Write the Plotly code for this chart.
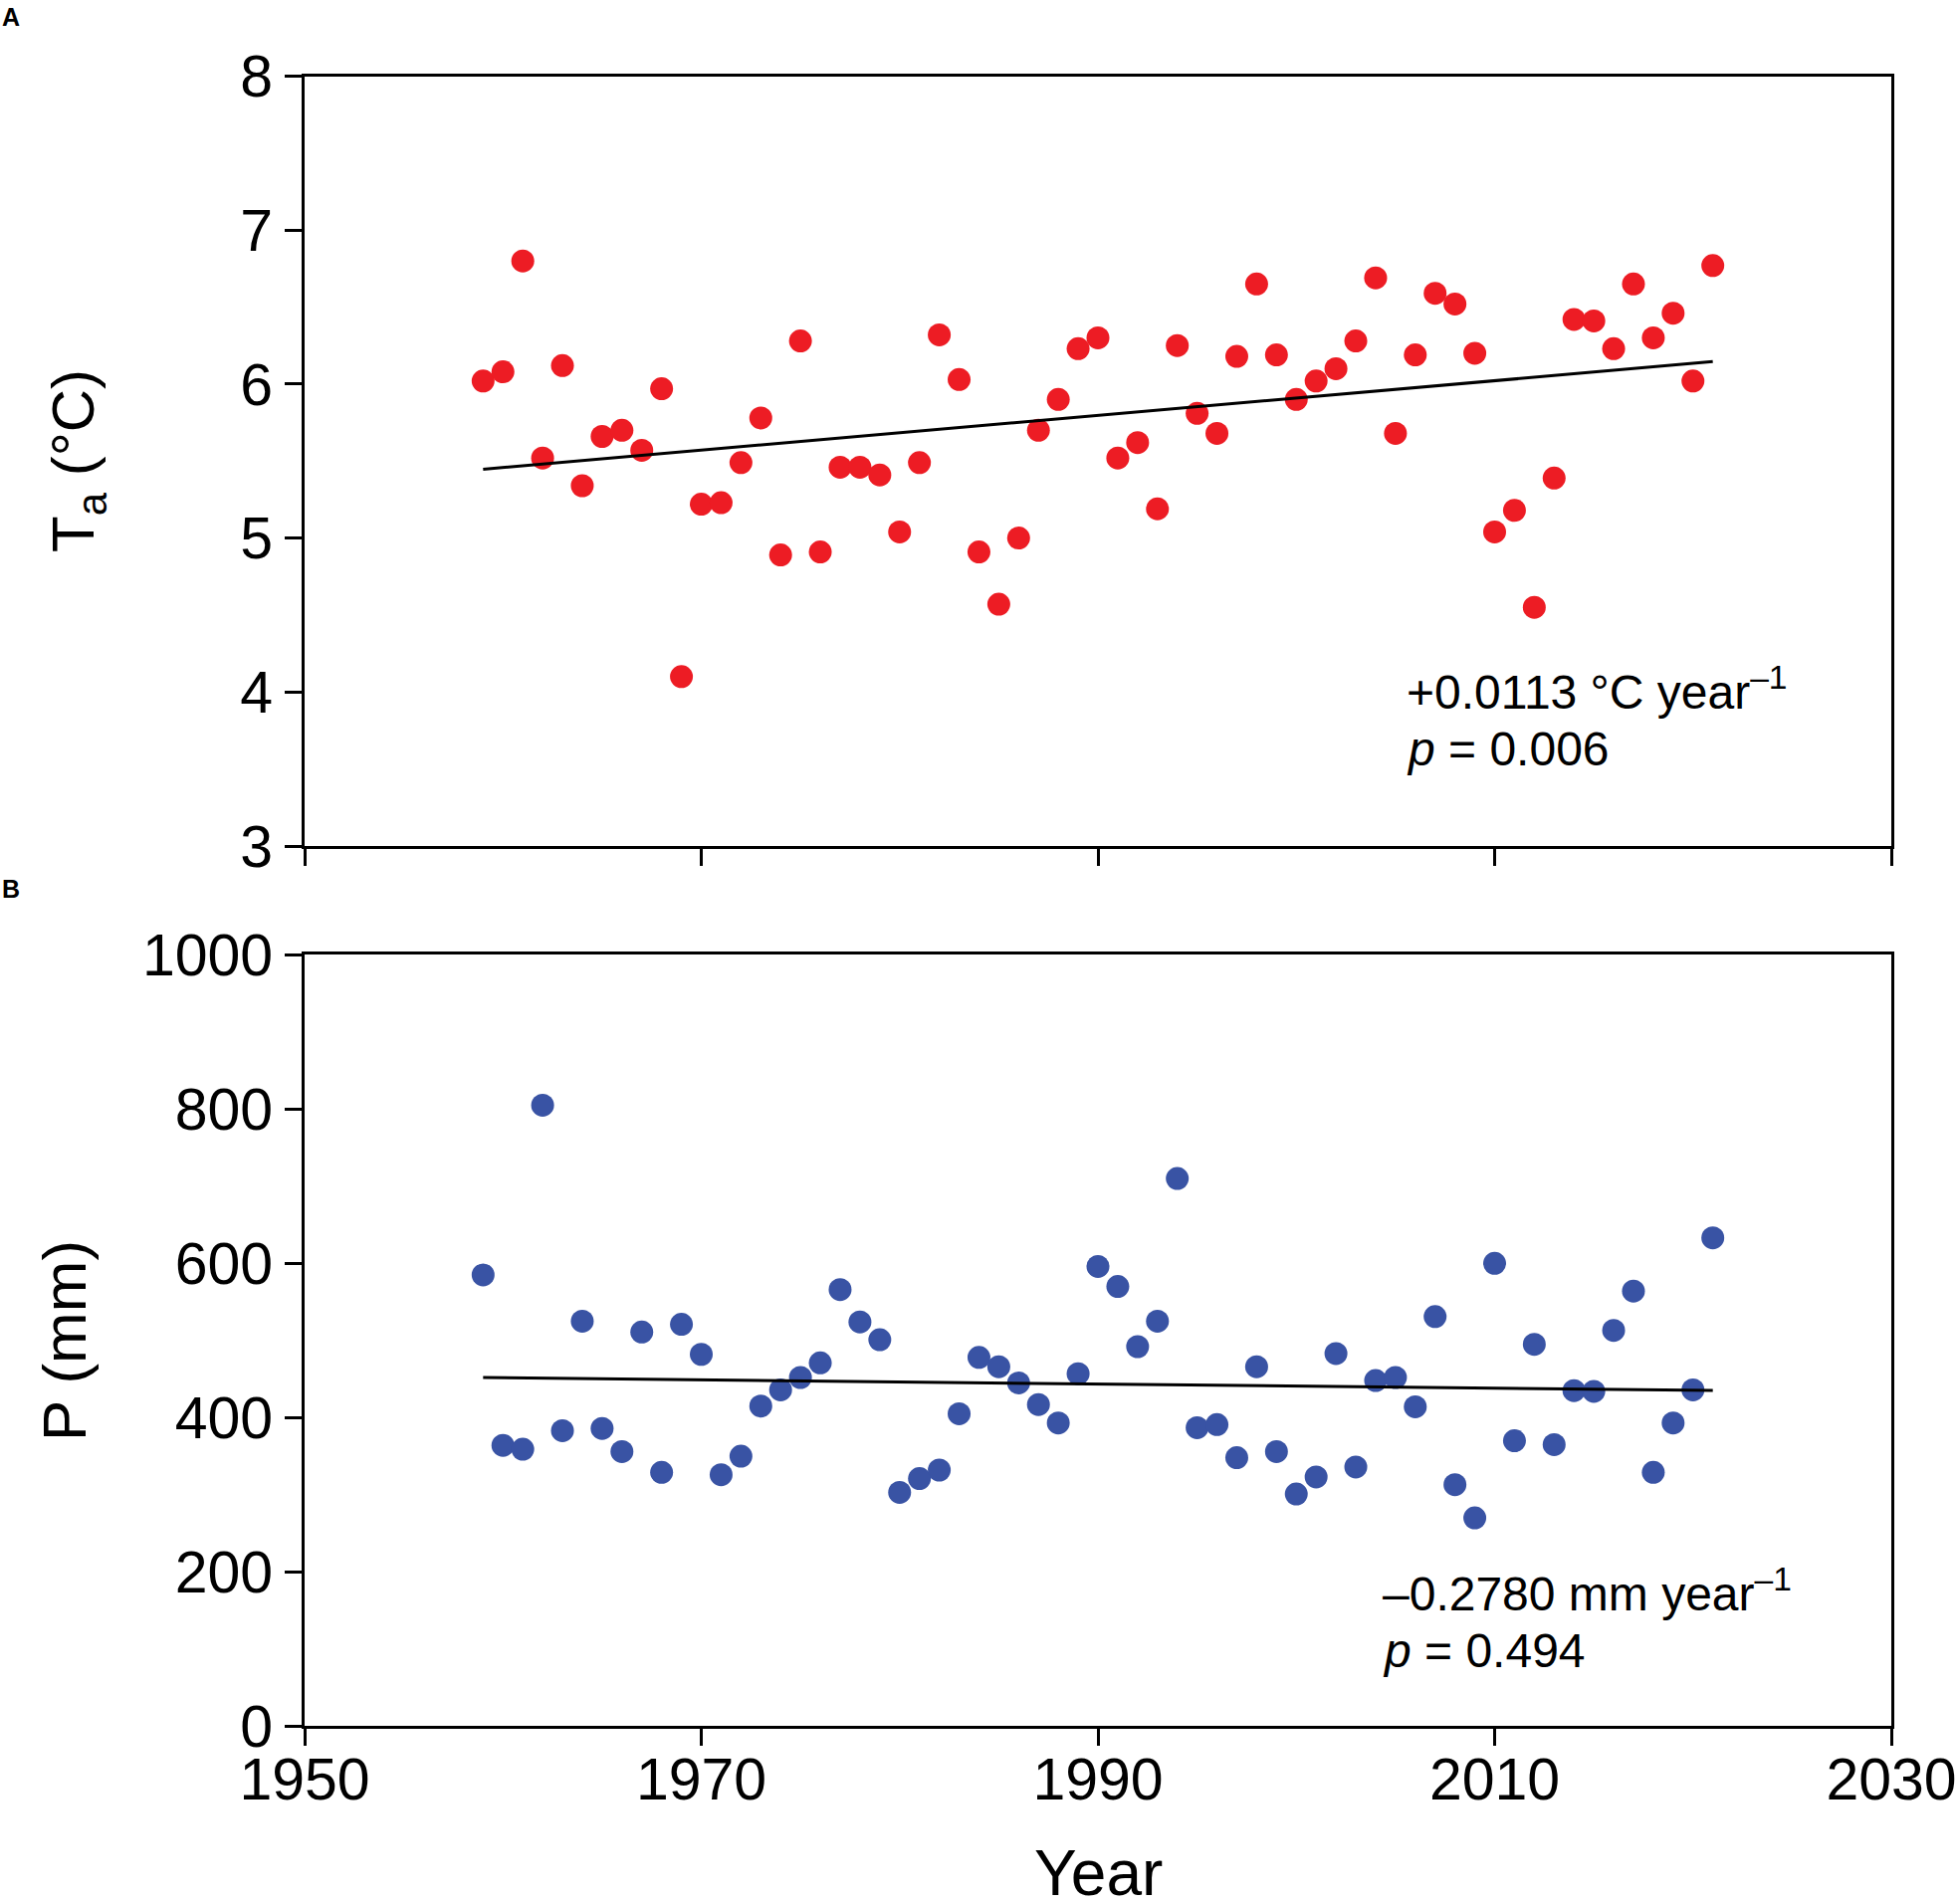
import plotly.graph_objects as go
import numpy as np

years = list(range(1959, 2022))

# annual mean air temperature (deg C)
ta = [6.02, 6.08, 6.80, 5.52, 6.12, 5.34, 5.66, 5.70, 5.57, 5.97,
      4.10, 5.22, 5.23, 5.49, 5.78, 4.89, 6.28, 4.91, 5.46, 5.46,
      5.41, 5.04, 5.49, 6.32, 6.03, 4.91, 4.57, 5.00, 5.70, 5.90,
      6.23, 6.30, 5.52, 5.62, 5.19, 6.25, 5.81, 5.68, 6.18, 6.65,
      6.19, 5.90, 6.02, 6.10, 6.28, 6.69, 5.68, 6.19, 6.59, 6.52,
      6.20, 5.04, 5.18, 4.55, 5.39, 6.42, 6.41, 6.23, 6.65, 6.30,
      6.46, 6.02, 6.77]

# annual precipitation (mm)
precip = [585, 364, 359, 805, 383, 525, 386, 356, 511, 329,
          521, 482, 326, 350, 415, 436, 452, 471, 566, 524,
          501, 303, 321, 332, 405, 478, 466, 445, 417, 393,
          457, 596, 570, 492, 525, 710, 387, 391, 348, 466,
          356, 301, 323, 483, 336, 448, 452, 414, 531, 313,
          270, 600, 370, 495, 365, 435, 434, 513, 564, 329,
          393, 436, 633]

x_ticks = [1950, 1970, 1990, 2010, 2030]

W, H = 1966, 1913
FONT = "Arial, Liberation Sans, sans-serif"


def py(y):
    # pixel row -> paper coordinate
    return 1 - y / H


yrs = np.array(years)
fit_a = np.polyfit(yrs, ta, 1)
fit_b = np.polyfit(yrs, precip, 1)

fig = go.Figure()

fig.add_trace(go.Scatter(x=years, y=ta, mode="markers",
                         marker=dict(color="#ed1c24", size=23),
                         xaxis="x", yaxis="y", showlegend=False))
fig.add_trace(go.Scatter(x=[years[0], years[-1]],
                         y=np.polyval(fit_a, [years[0], years[-1]]),
                         mode="lines", line=dict(color="black", width=3),
                         xaxis="x", yaxis="y", showlegend=False))

fig.add_trace(go.Scatter(x=years, y=precip, mode="markers",
                         marker=dict(color="#3953a4", size=23),
                         xaxis="x2", yaxis="y2", showlegend=False))
fig.add_trace(go.Scatter(x=[years[0], years[-1]],
                         y=np.polyval(fit_b, [years[0], years[-1]]),
                         mode="lines", line=dict(color="black", width=3),
                         xaxis="x2", yaxis="y2", showlegend=False))

axis_style = dict(showline=True, linecolor="black", linewidth=3, mirror=True,
                  ticks="outside", ticklen=17, tickwidth=3, tickcolor="black",
                  showgrid=False, zeroline=False, automargin=False,
                  tickfont=dict(family=FONT, size=59, color="black"))

xdom = [306 / W, 1900 / W]

fig.update_layout(
    width=W, height=H,
    margin=dict(l=0, r=0, t=0, b=0),
    paper_bgcolor="white", plot_bgcolor="white",
    font=dict(family=FONT, color="black"),
    xaxis=dict(domain=xdom, range=[1950, 2030], tickvals=x_ticks,
               showticklabels=False, anchor="y", **axis_style),
    yaxis=dict(domain=[py(850), py(76.5)], range=[3, 8], dtick=1,
               ticklabelstandoff=0, anchor="x", **axis_style),
    xaxis2=dict(domain=xdom, range=[1950, 2030], tickvals=x_ticks,
                anchor="y2", ticklabelstandoff=-17, **axis_style),
    yaxis2=dict(domain=[py(1734.3), py(959.3)], range=[0, 1000], dtick=200,
                ticklabelstandoff=0, anchor="x2", **axis_style),
)

ann = []
# panel letters
ann.append(dict(text="<b>A</b>", x=0, y=py(17), xanchor="left", yanchor="middle",
                font=dict(size=25)))
ann.append(dict(text="<b>B</b>", x=0, y=py(893), xanchor="left", yanchor="middle",
                font=dict(size=25)))
# axis titles
ann.append(dict(text="T<sub>a</sub> (°C)", x=78 / W, y=py(463), textangle=-90,
                xanchor="center", yanchor="middle", font=dict(size=60)))
ann.append(dict(text="P (mm)", x=64 / W, y=py(1347), textangle=-90,
                xanchor="center", yanchor="middle", font=dict(size=62)))
ann.append(dict(text="Year", x=1103 / W, y=py(1882), xanchor="center",
                yanchor="middle", font=dict(size=64)))
# trend statistics
ann.append(dict(text="+0.0113 °C year<sup>–1</sup>", x=1411 / W, y=py(692),
                xanchor="left", yanchor="middle", font=dict(size=48)))
ann.append(dict(text="<i>p</i> = 0.006", x=1411 / W, y=py(753),
                xanchor="left", yanchor="middle", font=dict(size=48)))
ann.append(dict(text="–0.2780 mm year<sup>–1</sup>", x=1387 / W, y=py(1598),
                xanchor="left", yanchor="middle", font=dict(size=48)))
ann.append(dict(text="<i>p</i> = 0.494", x=1387 / W, y=py(1658),
                xanchor="left", yanchor="middle", font=dict(size=48)))

for a in ann:
    a.update(xref="paper", yref="paper", showarrow=False)
    a["font"].update(family=FONT, color="black")
fig.update_layout(annotations=ann)

# the page's default body margin would push the figure off the window
fig.write_html("out.html", config={"displayModeBar": False},
               post_script="document.body.style.margin = '0px';")
